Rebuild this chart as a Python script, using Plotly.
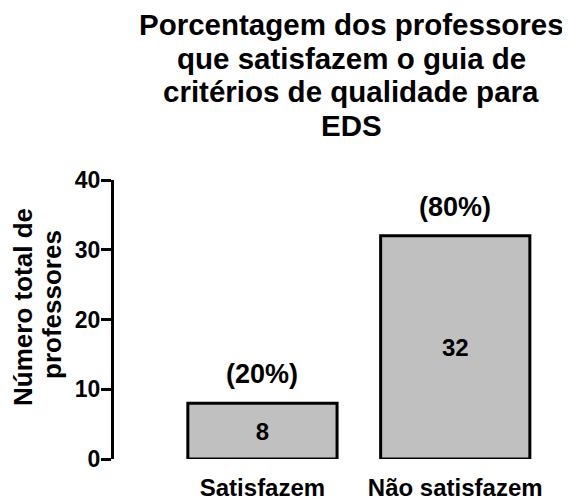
import plotly.graph_objects as go

categories = ["Satisfazem", "Não satisfazem"]
values = [8, 32]
percent_labels = ["(20%)", "(80%)"]
y_ticks = [0, 10, 20, 30, 40]
title_lines = ["Porcentagem dos professores", "que satisfazem o guia de",
               "critérios de qualidade para", "EDS"]
ytitle_lines = ["Número total de", "professores"]

FONT = "Liberation Sans, Arial, Helvetica, sans-serif"

# page offset (default body margin of the html page)
OFF = 8
W, H = 570 - OFF, 500 - OFF
ML, MR, MT, MB = 106, 28.4, 172, 41
PW, PH = W - ML - MR, H - MT - MB


def px(xp):
    return (xp - OFF - ML) / PW


def py(yp):
    return (H - MB - (yp - OFF)) / PH


fig = go.Figure()
fig.add_trace(go.Bar(
    x=categories,
    y=values,
    text=[str(v) for v in values],
    textposition="inside",
    insidetextanchor="middle",
    textangle=0,
    textfont=dict(family=FONT, size=24, color="black", weight="bold"),
    marker=dict(color="#c0c0c0", line=dict(color="black", width=3)),
    showlegend=False,
    hoverinfo="skip",
))

for c, v, p in zip(categories, values, percent_labels):
    fig.add_annotation(
        x=c, y=v, xref="x", yref="y", text=p,
        showarrow=False, yanchor="middle", yshift=29,
        font=dict(family=FONT, size=27, color="black", weight="bold"),
    )

# title lines
for line, yc in zip(title_lines, [24, 58, 92, 126]):
    fig.add_annotation(
        x=px(351), y=py(yc), xref="paper", yref="paper",
        text=line, showarrow=False, xanchor="center", yanchor="middle",
        font=dict(family=FONT, size=29.5, color="black", weight="bold"),
    )

# y-axis title lines
for line, xc, yc in zip(ytitle_lines, [23, 52], [307, 304]):
    fig.add_annotation(
        x=px(xc), y=py(yc), xref="paper", yref="paper",
        text=line, showarrow=False, textangle=-90,
        xanchor="center", yanchor="middle",
        font=dict(family=FONT, size=26, color="black", weight="bold"),
    )

fig.update_layout(
    width=W, height=H,
    margin=dict(l=ML, r=MR, t=MT, b=MB, pad=0, autoexpand=False),
    paper_bgcolor="white", plot_bgcolor="white",
    bargap=0.226,
    font=dict(family=FONT, color="black"),
    xaxis=dict(
        range=[-0.77, 1.45], automargin=False,
        showline=False, showgrid=False, zeroline=False,
        ticks="", ticklabelstandoff=12,
        tickfont=dict(family=FONT, size=24, color="black", weight="bold"),
    ),
    yaxis=dict(
        range=[0, 40], tickvals=y_ticks, automargin=False,
        showline=True, linecolor="black", linewidth=3,
        ticks="outside", ticklen=10, tickwidth=3, tickcolor="black",
        ticklabelstandoff=-4,
        showgrid=False, zeroline=False,
        tickfont=dict(family=FONT, size=23, color="black", weight="bold"),
    ),
)

fig.write_html("out.html")
